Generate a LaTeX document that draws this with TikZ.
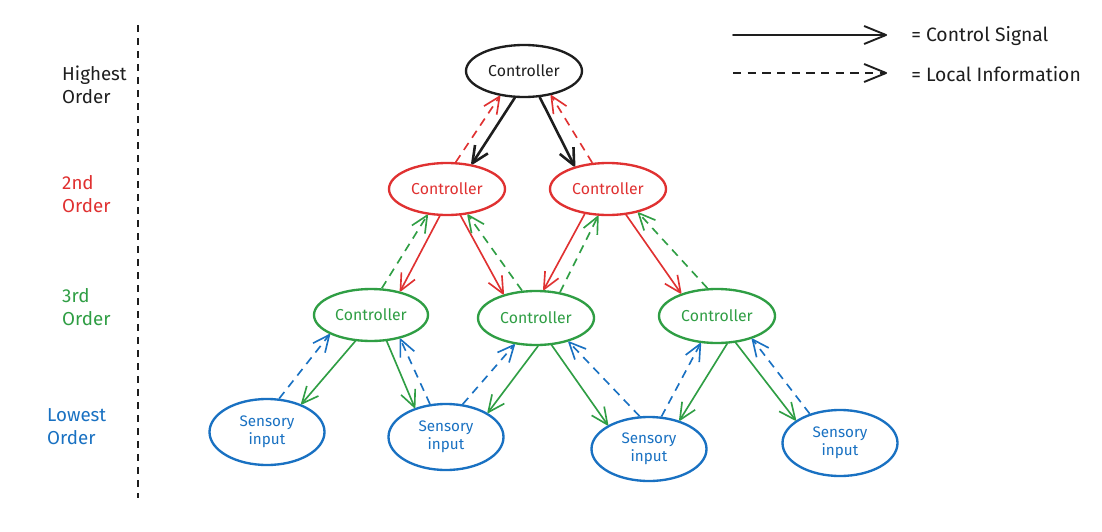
\documentclass[tikz,border=0pt]{standalone}
\usepackage{fontspec}
\setmainfont{Fira Sans}
\usetikzlibrary{shapes.geometric,arrows.meta}
\definecolor{cblack}{HTML}{1E1E1E}
\definecolor{cred}{HTML}{E03131}
\definecolor{cgreen}{HTML}{2F9E44}
\definecolor{cblue}{HTML}{1971C2}
\tikzset{
  ell/.style={ellipse, draw, line width=2pt, inner sep=0pt, minimum width=3.48cm, minimum height=1.56cm, font=\fontsize{13.5}{15}\selectfont, align=center},
  sens/.style={ell, minimum width=3.45cm, minimum height=1.98cm, font=\fontsize{13}{15}\selectfont},
  tip/.style={-{Straight Barb[length=0.5cm,width=0.46cm,line join=round]}},
  bigtip/.style={-{Straight Barb[length=0.66cm,width=0.54cm,line join=round]}},
  ctrl/.style={tip, line width=1.4pt, line cap=round},
  info/.style={tip, line width=1.4pt, dash pattern=on 0.25cm off 0.19cm},
  lbl/.style={anchor=west, align=left, font=\fontsize{16}{19.5}\selectfont, inner sep=0pt},
}
\begin{document}
\begin{tikzpicture}[x=0.03cm,y=-0.03cm]
\useasboundingbox[fill=white] (0,0) rectangle (1102,531);
% left labels
\node[lbl, text=cblack] (lh) at (62,85) {Highest\\Order};
\node[lbl, text=cred] (l2) at (62,194) {2nd\\Order};
\node[lbl, text=cgreen] (l3) at (62,307) {3rd\\Order};
\node[lbl, text=cblue] (ll) at (47,427) {Lowest\\Order};
\coordinate (vt) at (138,25);
\coordinate (vb) at (138,498);
\draw[cblack, line width=1.7pt, dash pattern=on 0.21cm off 0.18cm] (vt) -- (vb);
% legend
\coordinate (a1) at (733,35); \coordinate (b1) at (887,35);
\coordinate (a2) at (733,73); \coordinate (b2) at (887,73);
\draw[ctrl, bigtip, cblack, line width=1.6pt] (a1) -- (b1);
\draw[info, bigtip, cblack, line width=1.6pt] (a2) -- (b2);
\node[lbl, font=\fontsize{16.5}{19}\selectfont, text=cblack] (t1) at (911,36) {= Control Signal};
\node[lbl, font=\fontsize{16.5}{19}\selectfont, text=cblack] (t2) at (911,74) {= Local Information};
% nodes
\node[ell, cblack] (T) at (524,71) {Controller};
\node[ell, cred] (L2a) at (447,189) {Controller};
\node[ell, cred] (L2b) at (608,189) {Controller};
\node[ell, cgreen, minimum width=3.42cm] (L3a) at (371,315) {Controller};
\node[ell, cgreen, minimum height=1.62cm] (L3b) at (536,318) {Controller};
\node[ell, cgreen, minimum height=1.62cm] (L3c) at (717,316) {Controller};
\node[sens, cblue] (S1) at (267,432) {Sensory\\input};
\node[sens, cblue] (S2) at (446,437) {Sensory\\input};
\node[sens, cblue, minimum height=1.92cm] (S3) at (649,449) {Sensory\\input};
\node[sens, cblue] (S4) at (840,443) {Sensory\\input};
% top level
\draw[ctrl, cblack, line width=2.2pt] (T.-109) -- (L2a.45);
\draw[info, cred] (L2a.72) -- (T.-134);
\draw[ctrl, cblack, line width=2.2pt] (T.-59) -- (L2b.146);
\draw[info, cred] (L2b.121) -- (T.-42);
% second level
\draw[ctrl, cred] (L2a.-105) -- (L3a.39);
\draw[info, cgreen] (L3a.68) -- (L2a.-127);
\draw[ctrl, cred] (L2a.-63) -- (L3b.144);
\draw[info, cgreen] (L3b.117) -- (L2a.-51);
\draw[ctrl, cred] (L2b.-133) -- (L3b.75);
\draw[info, cgreen] (L3b.47) -- (L2b.-110);
\draw[ctrl, cred] (L2b.-55) -- (L3c.148);
\draw[info, cgreen] (L3c.109) -- (L2b.-38);
% third level
\draw[ctrl, cgreen] (L3a.-121) -- (S1.39);
\draw[info, cblue] (S1.70) -- (L3a.-155);
\draw[ctrl, cgreen] (L3a.-59) -- (S2.137);
\draw[info, cblue] (S2.116) -- (L3a.-39);
\draw[ctrl, cgreen] (L3b.-86) -- (S2.30);
\draw[info, cblue] (S2.63) -- (L3b.-129);
\draw[ctrl, cgreen] (L3b.-60) -- (S3.150);
\draw[info, cblue] (S3.106) -- (L3b.-36);
\draw[ctrl, cgreen] (L3c.-70) -- (S3.43);
\draw[info, cblue] (S3.69) -- (L3c.-121);
\draw[ctrl, cgreen] (L3c.-55) -- (S4.153);
\draw[info, cblue] (S4.136) -- (L3c.-33);
\end{tikzpicture}
\end{document}
